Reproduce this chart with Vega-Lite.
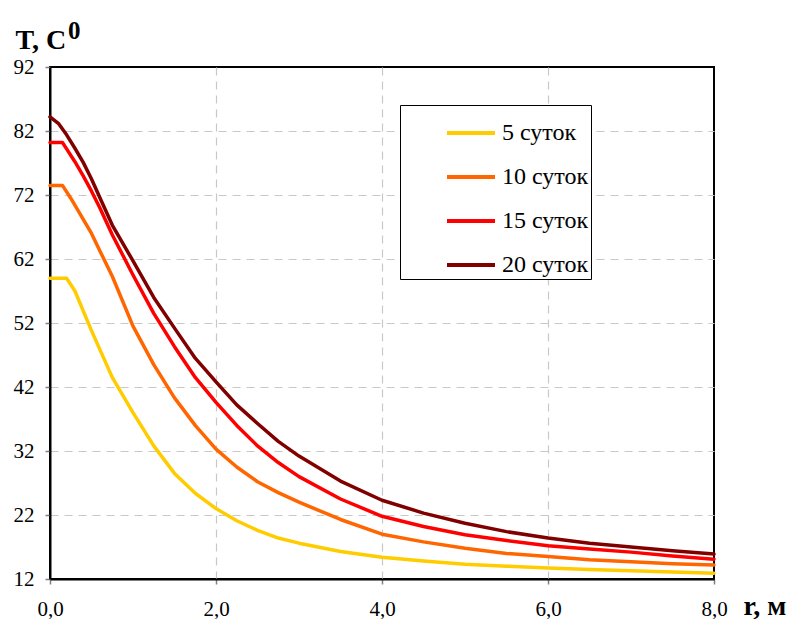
{
  "$schema": "https://vega.github.io/schema/vega-lite/v6.json",
  "autosize": {"type": "none"},
  "padding": {"left": 50, "top": 67, "right": 76, "bottom": 40},
  "width": 664,
  "height": 512,
  "background": "white",
  "title": {
    "text": "0",
    "anchor": "start",
    "frame": "group",
    "font": "Liberation Serif, Times New Roman, serif",
    "fontSize": 25,
    "fontWeight": "bold",
    "color": "black",
    "dx": 18,
    "dy": 18,
    "offset": 0
  },
  "config": {
    "font": "Liberation Serif, Times New Roman, serif",
    "view": {"stroke": "black", "strokeWidth": 2},
    "axis": {
      "domainColor": "black",
      "domainWidth": 2,
      "tickColor": "#808080",
      "tickWidth": 1.5,
      "tickSize": 5,
      "gridColor": "#c8c8c8",
      "gridDash": [8, 6],
      "gridWidth": 1.2,
      "labelFont": "Liberation Serif, Times New Roman, serif",
      "labelFontSize": 21,
      "labelColor": "black",
      "titleFont": "Liberation Serif, Times New Roman, serif",
      "titleFontSize": 28,
      "titleFontWeight": "bold",
      "titleColor": "black"
    },
    "legend": {
      "orient": "none",
      "legendX": 350,
      "legendY": 38,
      "strokeColor": "black",
      "fillColor": "white",
      "padding": 2,
      "symbolType": "stroke",
      "symbolSize": 2304,
      "symbolStrokeWidth": 4,
      "symbolOffset": 43,
      "labelFont": "Liberation Serif, Times New Roman, serif",
      "labelFontSize": 24,
      "labelColor": "black",
      "labelOffset": 5,
      "rowPadding": 6
    }
  },
  "data": {
    "values": [
      {"r": 0, "T": 59, "series": "5 суток"},
      {"r": 0.2, "T": 59, "series": "5 суток"},
      {"r": 0.3, "T": 57, "series": "5 суток"},
      {"r": 0.5, "T": 50.8, "series": "5 суток"},
      {"r": 0.75, "T": 43.5, "series": "5 суток"},
      {"r": 1, "T": 38, "series": "5 суток"},
      {"r": 1.25, "T": 32.8, "series": "5 суток"},
      {"r": 1.5, "T": 28.5, "series": "5 суток"},
      {"r": 1.75, "T": 25.4, "series": "5 суток"},
      {"r": 2, "T": 23, "series": "5 суток"},
      {"r": 2.25, "T": 21.1, "series": "5 суток"},
      {"r": 2.5, "T": 19.6, "series": "5 суток"},
      {"r": 2.75, "T": 18.4, "series": "5 суток"},
      {"r": 3, "T": 17.6, "series": "5 суток"},
      {"r": 3.5, "T": 16.3, "series": "5 суток"},
      {"r": 4, "T": 15.4, "series": "5 суток"},
      {"r": 4.5, "T": 14.8, "series": "5 суток"},
      {"r": 5, "T": 14.3, "series": "5 суток"},
      {"r": 5.5, "T": 14, "series": "5 суток"},
      {"r": 6, "T": 13.7, "series": "5 суток"},
      {"r": 6.5, "T": 13.5, "series": "5 суток"},
      {"r": 7, "T": 13.3, "series": "5 суток"},
      {"r": 7.5, "T": 13.1, "series": "5 суток"},
      {"r": 8, "T": 12.9, "series": "5 суток"},

      {"r": 0, "T": 73.5, "series": "10 суток"},
      {"r": 0.15, "T": 73.5, "series": "10 суток"},
      {"r": 0.25, "T": 71.5, "series": "10 суток"},
      {"r": 0.5, "T": 66, "series": "10 суток"},
      {"r": 0.6, "T": 63.3, "series": "10 суток"},
      {"r": 0.75, "T": 59.3, "series": "10 суток"},
      {"r": 1, "T": 51.5, "series": "10 суток"},
      {"r": 1.25, "T": 45.5, "series": "10 суток"},
      {"r": 1.5, "T": 40.3, "series": "10 суток"},
      {"r": 1.75, "T": 36, "series": "10 суток"},
      {"r": 2, "T": 32.3, "series": "10 суток"},
      {"r": 2.25, "T": 29.5, "series": "10 суток"},
      {"r": 2.5, "T": 27.2, "series": "10 суток"},
      {"r": 2.75, "T": 25.5, "series": "10 суток"},
      {"r": 3, "T": 24, "series": "10 суток"},
      {"r": 3.5, "T": 21.3, "series": "10 суток"},
      {"r": 4, "T": 19, "series": "10 суток"},
      {"r": 4.5, "T": 17.8, "series": "10 суток"},
      {"r": 5, "T": 16.8, "series": "10 суток"},
      {"r": 5.5, "T": 16, "series": "10 суток"},
      {"r": 6, "T": 15.5, "series": "10 суток"},
      {"r": 6.5, "T": 15, "series": "10 суток"},
      {"r": 7, "T": 14.7, "series": "10 суток"},
      {"r": 7.5, "T": 14.4, "series": "10 суток"},
      {"r": 8, "T": 14.2, "series": "10 суток"},

      {"r": 0, "T": 80.2, "series": "15 суток"},
      {"r": 0.15, "T": 80.2, "series": "15 суток"},
      {"r": 0.2, "T": 79.2, "series": "15 суток"},
      {"r": 0.3, "T": 77.2, "series": "15 суток"},
      {"r": 0.4, "T": 75, "series": "15 суток"},
      {"r": 0.5, "T": 72.6, "series": "15 суток"},
      {"r": 0.6, "T": 70, "series": "15 суток"},
      {"r": 0.75, "T": 65.8, "series": "15 суток"},
      {"r": 1, "T": 59.5, "series": "15 суток"},
      {"r": 1.25, "T": 53.5, "series": "15 суток"},
      {"r": 1.5, "T": 48.3, "series": "15 суток"},
      {"r": 1.75, "T": 43.5, "series": "15 суток"},
      {"r": 2, "T": 39.6, "series": "15 суток"},
      {"r": 2.25, "T": 36, "series": "15 суток"},
      {"r": 2.5, "T": 32.8, "series": "15 суток"},
      {"r": 2.75, "T": 30.2, "series": "15 суток"},
      {"r": 3, "T": 28, "series": "15 суток"},
      {"r": 3.5, "T": 24.5, "series": "15 суток"},
      {"r": 4, "T": 21.8, "series": "15 суток"},
      {"r": 4.5, "T": 20.2, "series": "15 суток"},
      {"r": 5, "T": 18.9, "series": "15 суток"},
      {"r": 5.5, "T": 18, "series": "15 суток"},
      {"r": 6, "T": 17.2, "series": "15 суток"},
      {"r": 6.5, "T": 16.7, "series": "15 суток"},
      {"r": 7, "T": 16.2, "series": "15 суток"},
      {"r": 7.5, "T": 15.6, "series": "15 суток"},
      {"r": 8, "T": 15.1, "series": "15 суток"},

      {"r": 0, "T": 84.2, "series": "20 суток"},
      {"r": 0.1, "T": 83.2, "series": "20 суток"},
      {"r": 0.2, "T": 81.4, "series": "20 суток"},
      {"r": 0.3, "T": 79.3, "series": "20 суток"},
      {"r": 0.4, "T": 77.1, "series": "20 суток"},
      {"r": 0.5, "T": 74.5, "series": "20 суток"},
      {"r": 0.6, "T": 71.6, "series": "20 суток"},
      {"r": 0.75, "T": 67.3, "series": "20 суток"},
      {"r": 1, "T": 61.7, "series": "20 суток"},
      {"r": 1.25, "T": 56, "series": "20 суток"},
      {"r": 1.5, "T": 51.2, "series": "20 суток"},
      {"r": 1.75, "T": 46.5, "series": "20 суток"},
      {"r": 2, "T": 42.8, "series": "20 суток"},
      {"r": 2.25, "T": 39.2, "series": "20 суток"},
      {"r": 2.5, "T": 36.3, "series": "20 суток"},
      {"r": 2.75, "T": 33.5, "series": "20 суток"},
      {"r": 3, "T": 31.2, "series": "20 суток"},
      {"r": 3.5, "T": 27.3, "series": "20 суток"},
      {"r": 4, "T": 24.3, "series": "20 суток"},
      {"r": 4.5, "T": 22.3, "series": "20 суток"},
      {"r": 5, "T": 20.7, "series": "20 суток"},
      {"r": 5.5, "T": 19.4, "series": "20 суток"},
      {"r": 6, "T": 18.4, "series": "20 суток"},
      {"r": 6.5, "T": 17.6, "series": "20 суток"},
      {"r": 7, "T": 17, "series": "20 суток"},
      {"r": 7.5, "T": 16.4, "series": "20 суток"},
      {"r": 8, "T": 15.9, "series": "20 суток"}
    ]
  },
  "mark": {"type": "line", "strokeWidth": 3.5, "strokeJoin": "round", "strokeCap": "round"},
  "encoding": {
    "x": {
      "field": "r",
      "type": "quantitative",
      "scale": {"domain": [0, 8], "nice": false, "zero": false},
      "axis": {
        "values": [0, 2, 4, 6, 8],
        "labelExpr": "replace(format(datum.value, '.1f'), '.', ',')",
        "labelPadding": 14,
        "labelFlush": false,
        "gridOpacity": {"condition": {"test": "datum.value == 0 || datum.value == 8", "value": 0}, "value": 1},
        "title": "r, м",
        "titleAnchor": "start",
        "titleAlign": "left",
        "titleBaseline": "alphabetic",
        "titleX": 693,
        "titleY": 35
      }
    },
    "y": {
      "field": "T",
      "type": "quantitative",
      "scale": {"domain": [12, 92], "nice": false, "zero": false},
      "axis": {
        "values": [12, 22, 32, 42, 52, 62, 72, 82, 92],
        "labelPadding": 11,
        "labelFlush": false,
        "gridOpacity": {"condition": {"test": "datum.value == 12 || datum.value == 92", "value": 0}, "value": 1},
        "title": "T, C",
        "titleAngle": 0,
        "titleAlign": "left",
        "titleBaseline": "alphabetic",
        "titleX": -35,
        "titleY": -19
      }
    },
    "color": {
      "field": "series",
      "type": "nominal",
      "sort": ["5 суток", "10 суток", "15 суток", "20 суток"],
      "scale": {
        "domain": ["5 суток", "10 суток", "15 суток", "20 суток"],
        "range": ["#ffcc00", "#ff6600", "#ff0000", "#800000"]
      },
      "legend": {
        "title": null,
        "labelExpr": "datum.label + '  '"
      }
    }
  }
}
